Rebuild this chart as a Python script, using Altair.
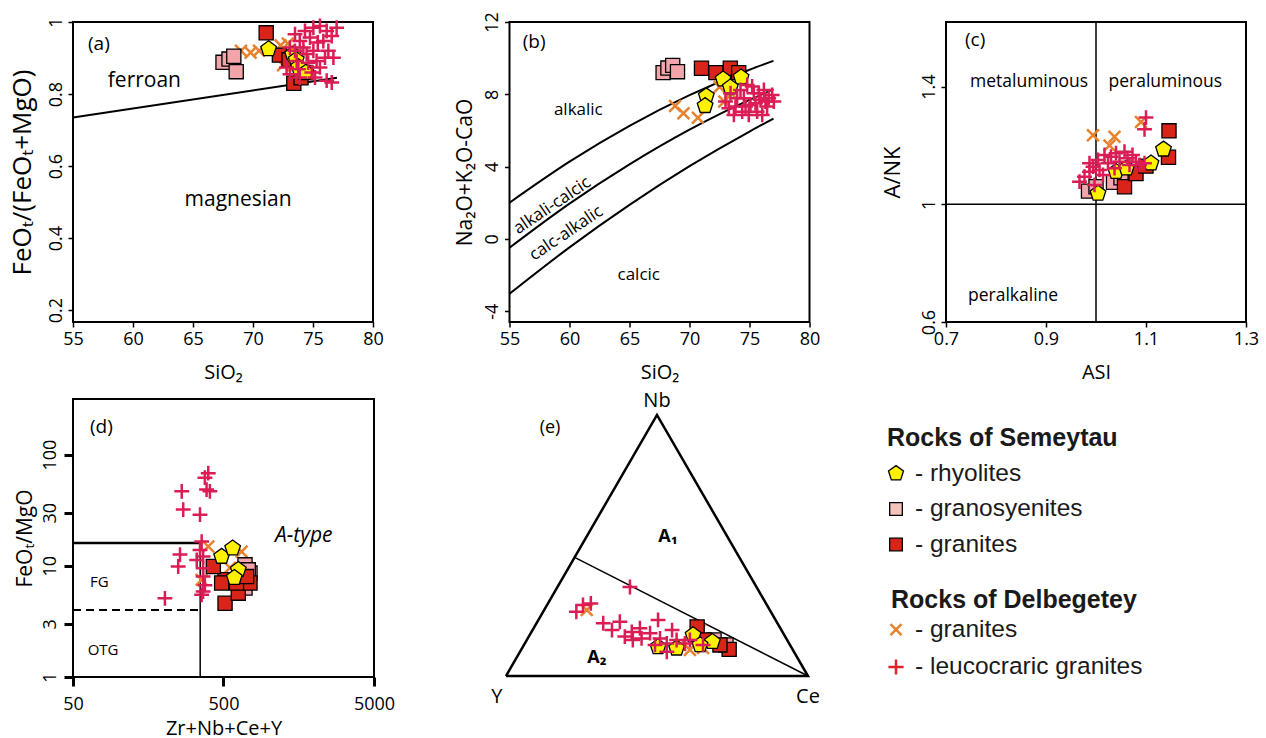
import altair as alt
import pandas as pd

FONT = "Open Sans"
LFONT = "Liberation Sans"

C_RHY = "#FFF200"
C_GSY = "#F2A5AA"
C_GRS = "#D92419"
C_GRD = "#E8812C"
C_LEU = "#DA1E55"
L_GSY = "#F5C3B9"
L_LEU = "#E2202A"

PENT = "M0,-1L0.951,-0.309L0.588,0.809L-0.588,0.809L-0.951,-0.309Z"
XSH = "M-1,-1L1,1M-1,1L1,-1"
PLUS = "M-1,0L1,0M0,-1L0,1"

# ---------------- (a) SiO2 vs FeOt/(FeOt+MgO) ----------------
a_rhy_x = [71.3, 73.3, 73.6, 73.8, 74.4]
a_rhy_y = [0.925, 0.91, 0.895, 0.875, 0.86]
a_gsy_x = [67.5, 68.0, 68.4, 68.6]
a_gsy_y = [0.888, 0.897, 0.905, 0.862]
a_grS_x = [71.1, 72.2, 73.0, 73.4, 74.0, 74.4]
a_grS_y = [0.97, 0.908, 0.895, 0.83, 0.845, 0.86]
a_grD_x = [69.0, 69.8, 70.5, 72.3, 72.9, 72.5, 73.0, 73.8]
a_grD_y = [0.92, 0.915, 0.92, 0.935, 0.94, 0.88, 0.90, 0.92]
a_leu_x = [73.08, 73.5, 73.9, 74.33, 74.75, 75.03, 75.58, 76.14, 76.56, 76.97, 75.86,
           76.28, 76.7, 75.3, 74.47, 73.64, 72.8, 73.08, 73.9, 74.9, 75.58, 76.14,
           76.56, 75.03, 74.2, 75.4, 74.6, 76.0, 73.5, 73.78, 75.17]
a_leu_y = [0.929, 0.966, 0.947, 0.975, 0.957, 0.984, 0.989, 0.975, 0.961, 0.984, 0.947,
           0.92, 0.901, 0.892, 0.911, 0.892, 0.874, 0.855, 0.846, 0.86, 0.874, 0.837,
           0.832, 0.92, 0.929, 0.943, 0.887, 0.901, 0.92, 0.869, 0.846]
a_line_x = [55, 77]
a_line_y = [0.735, 0.845]

# ---------------- (b) SiO2 vs MALI ----------------
b_rhy_x = [72.8, 74.3, 71.4, 71.3, 73.4]
b_rhy_y = [8.83, 8.94, 7.9, 7.36, 8.39]
b_gsy_x = [67.8, 68.2, 68.6, 69.0]
b_gsy_y = [9.2, 9.45, 9.6, 9.25]
b_grS_x = [71.0, 72.2, 73.4, 74.1]
b_grS_y = [9.44, 9.2, 9.44, 9.2]
b_grD_x = [68.8, 69.5, 70.7, 72.5, 72.9, 73.4]
b_grD_y = [7.35, 6.95, 6.7, 8.4, 7.6, 8.1]
b_leu_x = [73.0, 73.42, 73.83, 74.25, 74.53, 74.81, 75.08, 75.36, 75.64, 75.92, 76.2,
           76.47, 76.89, 77.03, 73.7, 74.39, 73.28, 74.94, 75.5, 76.06, 76.6, 75.22,
           73.97, 74.67, 75.78, 76.33]
b_leu_y = [7.6, 8.06, 7.32, 8.24, 7.78, 8.52, 7.41, 8.06, 7.04, 7.69, 8.24,
           7.32, 7.96, 7.6, 6.86, 7.04, 7.23, 6.86, 7.5, 6.86, 7.78, 8.43,
           7.78, 7.32, 8.06, 7.6]
b_curve_x = [55, 60, 65, 70, 75, 77]
b_alk_y = [2.0, 4.27, 6.25, 7.95, 9.36, 9.85]
b_alc_y = [-0.49, 1.95, 4.12, 6.04, 7.69, 8.27]
b_cal_y = [-3.04, -0.47, 1.88, 4.02, 5.94, 6.65]

# ---------------- (c) ASI vs A/NK ----------------
c_rhy_x = [1.004, 1.04, 1.061, 1.11, 1.135]
c_rhy_y = [1.037, 1.111, 1.123, 1.14, 1.187]
c_gsy_x = [0.985, 1.0, 1.035, 1.05]
c_gsy_y = [1.045, 1.06, 1.075, 1.09]
c_grS_x = [1.146, 1.145, 1.057, 1.08, 1.10]
c_grS_y = [1.25, 1.16, 1.06, 1.105, 1.13]
c_grD_x = [0.994, 1.037, 1.027, 1.09]
c_grD_y = [1.235, 1.23, 1.2, 1.28]
c_leu_x = [0.967, 0.977, 0.987, 0.994, 1.004, 1.007, 1.017, 1.024, 1.03, 1.04, 1.047,
           1.057, 1.063, 1.073, 1.08, 1.087, 1.097, 0.997, 1.014, 1.037, 1.067, 1.10,
           1.097, 0.987]
c_leu_y = [1.077, 1.094, 1.111, 1.128, 1.151, 1.117, 1.168, 1.14, 1.162, 1.174, 1.145,
           1.179, 1.157, 1.168, 1.145, 1.134, 1.14, 1.066, 1.1, 1.123, 1.134, 1.295,
           1.255, 1.14]

# ---------------- (d) Zr+Nb+Ce+Y vs FeOt/MgO ----------------
d_rhy_x = [486, 575, 627, 590]
d_rhy_y = [12.1, 14.4, 9.2, 7.8]
d_gsy_x = [695, 750, 695, 730]
d_gsy_y = [10.2, 8.6, 6.3, 9.2]
d_grS_x = [512, 627, 750, 512, 610, 428, 712, 486]
d_grS_y = [4.6, 5.67, 7.0, 7.5, 7.0, 9.85, 8.0, 7.0]
d_grD_x = [396, 660, 552, 358]
d_grD_y = [14.9, 13.4, 9.6, 7.5]
d_leu_x = [264, 386, 270, 349, 396, 376, 406, 358, 257, 250, 204, 349, 332, 366, 366,
           366, 376, 366, 358]
d_leu_y = [46.7, 48.4, 32, 28.8, 68, 62, 46.7, 16.5, 12.6, 9.86, 5.1, 13.9, 11.3, 12.1,
           9.5, 8.0, 6.7, 5.87, 5.48]

# ---------------- (e) Nb - Y - Ce ternary (%) ----------------
e_rhy_nb = [11.1, 10.6, 15.7, 13.1, 11.9]
e_rhy_yy = [44.1, 38.2, 30.2, 25.1, 29.8]
e_rhy_ce = [44.8, 51.2, 54.1, 61.8, 58.3]
e_gsy_nb = [11.9, 13.8]
e_gsy_yy = [21.2, 24.2]
e_gsy_ce = [66.9, 62.0]
e_grS_nb = [18.8, 10.2, 11.9, 13.8]
e_grS_yy = [27.3, 21.0, 23.2, 27.5]
e_grS_ce = [53.9, 68.8, 64.9, 58.7]
e_grD_nb = [17.6, 10.7, 10.0, 25.3, 11.9]
e_grD_yy = [27.0, 29.4, 34.1, 60.6, 36.4]
e_grD_ce = [55.4, 59.9, 55.9, 14.1, 51.7]
e_leu_nb = [34.1, 24.6, 27.8, 20.2, 20.8, 15.1, 13.8, 18.3, 14.4, 16.4, 21.5, 14.4,
            12.5, 9.3, 13.8, 12.5, 13.8, 11.9, 17.6, 11.9, 16.9, 27.2, 17.6]
e_leu_yy = [41.9, 64.4, 58.0, 57.7, 51.9, 53.1, 51.1, 46.5, 47.9, 44.1, 38.9, 41.8,
            40.5, 42.1, 36.6, 34.5, 32.2, 28.8, 56.1, 44.7, 49.9, 60.9, 36.2]
e_leu_ce = [24.0, 11.0, 14.2, 22.1, 27.3, 31.8, 35.1, 35.2, 37.7, 39.5, 39.6, 43.8,
            47.0, 48.6, 49.6, 53.0, 54.0, 59.3, 26.3, 43.4, 33.2, 11.9, 46.2]
e_tri_nb = [0, 0, 100, 0]
e_tri_yy = [100, 0, 0, 100]
e_tri_ce = [0, 100, 0, 0]
e_bnd_nb = [45.45, 0]
e_bnd_yy = [54.55, 0]
e_bnd_ce = [0, 100]

# legend
leg_titles = ["Rocks of Semeytau", "Rocks of Delbegetey"]
leg_items = ["- rhyolites", "- granosyenites", "- granites", "- granites", "- leucocraric granites"]

STYLE = {
    "rhy": dict(shape=PENT, filled=True, fill=C_RHY, stroke="black", strokeWidth=1.3, size=270, opacity=1),
    "gsy": dict(shape="square", filled=True, fill=C_GSY, stroke="black", strokeWidth=1.3, size=200, opacity=1),
    "grS": dict(shape="square", filled=True, fill=C_GRS, stroke="black", strokeWidth=1.3, size=200, opacity=1),
    "grD": dict(shape=XSH, filled=False, stroke=C_GRD, strokeWidth=2.5, size=140, opacity=1),
    "leu": dict(shape=PLUS, filled=False, stroke=C_LEU, strokeWidth=2.5, size=220, opacity=1),
}
ORDER = ["grD", "gsy", "grS", "rhy", "leu"]


def xy(xs, ys):
    return pd.DataFrame({"x": xs, "y": ys})


def axis(values, title, orient, **kw):
    base = dict(values=values, title=title, domain=False, grid=False, ticks=True,
                tickColor="black", tickSize=5, tickWidth=1.5,
                labelColor="black", labelFont=FONT, labelFontSize=18, labelPadding=3,
                labelExpr="'' + datum.value", labelOverlap=False, labelFlush=False,
                titleColor="black", titleFont=FONT, titleFontSize=20, titleFontWeight="normal")
    if orient == "left":
        base.update(labelAngle=270, labelAlign="center", labelBaseline="bottom", titlePadding=8,
                    titleFontSize=21)
    else:
        base.update(titlePadding=14)
    base.update(kw)
    return alt.Axis(**base)


def texts(rows, xe, ye, **mk):
    df = pd.DataFrame(rows, columns=["x", "y", "t"])
    props = dict(font=FONT, fontSize=17, align="left", baseline="middle", color="black")
    props.update(mk)
    return alt.Chart(df).mark_text(**props).encode(x=xe, y=ye, text="t:N")


def scatter(groups, xe, ye):
    return [alt.Chart(groups[g]).mark_point(**STYLE[g]).encode(x=xe, y=ye) for g in ORDER]


# ---------- panel a ----------
xa = alt.X("x:Q", scale=alt.Scale(domain=[55, 80], nice=False, zero=False),
           axis=axis([55, 60, 65, 70, 75, 80], "SiO₂", "bottom"))
ya = alt.Y("y:Q", scale=alt.Scale(domain=[0.167, 1], nice=False, zero=False),
           axis=axis([0.2, 0.4, 0.6, 0.8, 1], "FeOₜ/(FeOₜ+MgO)", "left", titleFontSize=26,
                     titlePadding=12))
ga = {"rhy": xy(a_rhy_x, a_rhy_y), "gsy": xy(a_gsy_x, a_gsy_y), "grS": xy(a_grS_x, a_grS_y),
      "grD": xy(a_grD_x, a_grD_y), "leu": xy(a_leu_x, a_leu_y)}
pa = alt.layer(
    alt.Chart(xy(a_line_x, a_line_y)).mark_line(color="black", strokeWidth=2).encode(x=xa, y=ya),
    *scatter(ga, xa, ya),
    texts([[56.25, 0.939, "(a)"]], xa, ya, fontSize=19),
    texts([[57.9, 0.837, "ferroan"], [64.3, 0.505, "magnesian"]], xa, ya, fontSize=21),
).properties(width=300, height=300)

# ---------- panel b ----------
xb = alt.X("x:Q", scale=alt.Scale(domain=[55, 80], nice=False, zero=False),
           axis=axis([55, 60, 65, 70, 75, 80], "SiO₂", "bottom"))
yb = alt.Y("y:Q", scale=alt.Scale(domain=[-4.6, 12], nice=False, zero=False),
           axis=axis([-4, 0, 4, 8, 12], "Na₂O+K₂O-CaO", "left"))
gb = {"rhy": xy(b_rhy_x, b_rhy_y), "gsy": xy(b_gsy_x, b_gsy_y), "grS": xy(b_grS_x, b_grS_y),
      "grD": xy(b_grD_x, b_grD_y), "leu": xy(b_leu_x, b_leu_y)}
curves = [alt.Chart(xy(b_curve_x, cy)).mark_line(color="black", strokeWidth=2, interpolate="monotone").encode(x=xb, y=yb)
          for cy in (b_alk_y, b_alc_y, b_cal_y)]
pb = alt.layer(
    *curves,
    *scatter(gb, xb, yb),
    texts([[56.1, 10.9, "(b)"]], xb, yb, fontSize=19),
    texts([[58.7, 7.13, "alkalic"], [64.0, -1.99, "calcic"]], xb, yb, fontSize=17),
    texts([[58.56, 1.84, "alkali-calcic"], [59.72, 0.31, "calc-alkalic"]], xb, yb,
          fontSize=17, align="center", angle=326),
).properties(width=300, height=300)

# ---------- panel c ----------
xc = alt.X("x:Q", scale=alt.Scale(domain=[0.7, 1.3], nice=False, zero=False),
           axis=axis([0.7, 0.9, 1.1, 1.3], "ASI", "bottom"))
yc = alt.Y("y:Q", scale=alt.Scale(domain=[0.6, 1.62], nice=False, zero=False),
           axis=axis([0.6, 1, 1.4], "A/NK", "left", titlePadding=16, titleFontSize=22))
gc = {"rhy": xy(c_rhy_x, c_rhy_y), "gsy": xy(c_gsy_x, c_gsy_y), "grS": xy(c_grS_x, c_grS_y),
      "grD": xy(c_grD_x, c_grD_y), "leu": xy(c_leu_x, c_leu_y)}
pc = alt.layer(
    alt.Chart(pd.DataFrame({"x": [1.0]})).mark_rule(color="black", strokeWidth=1.5).encode(x=xc),
    alt.Chart(pd.DataFrame({"y": [1.0]})).mark_rule(color="black", strokeWidth=1.5).encode(y=yc),
    *scatter(gc, xc, yc),
    texts([[0.738, 1.559, "(c)"]], xc, yc, fontSize=19),
    texts([[0.748, 1.416, "metaluminous"], [1.025, 1.416, "peraluminous"],
           [0.744, 0.688, "peralkaline"]], xc, yc, fontSize=17.5),
).properties(width=300, height=300)

# ---------- panel d ----------
xd = alt.X("x:Q", scale=alt.Scale(type="log", domain=[50, 5000], nice=False),
           axis=axis([50, 500, 5000], "Zr+Nb+Ce+Y", "bottom", tickWidth=3, tickSize=9,
                     labelPadding=9, titlePadding=5, titleFontSize=20))
yd = alt.Y("y:Q", scale=alt.Scale(type="log", domain=[1, 316], nice=False),
           axis=axis([1, 3, 10, 30, 100], "FeOₜ/MgO", "left", tickWidth=3, tickSize=9,
                     labelPadding=5, titlePadding=6))
gd = {"rhy": xy(d_rhy_x, d_rhy_y), "gsy": xy(d_gsy_x, d_gsy_y), "grS": xy(d_grS_x, d_grS_y),
      "grD": xy(d_grD_x, d_grD_y), "leu": xy(d_leu_x, d_leu_y)}
p_d = alt.layer(
    alt.Chart(pd.DataFrame({"x": [50], "x2": [350], "y": [16]})).mark_rule(color="black", strokeWidth=2.5)
    .encode(x=xd, x2="x2", y=yd),
    alt.Chart(pd.DataFrame({"x": [50], "x2": [350], "y": [4]})).mark_rule(color="black", strokeWidth=2, strokeDash=[8, 5])
    .encode(x=xd, x2="x2", y=yd),
    alt.Chart(pd.DataFrame({"x": [350], "y": [1], "y2": [16]})).mark_rule(color="black", strokeWidth=1.5)
    .encode(x=xd, y=yd, y2="y2"),
    *scatter(gd, xd, yd),
    texts([[64.8, 178.8, "(d)"]], xd, yd, fontSize=19),
    texts([[1099, 18.4, "A-type"]], xd, yd, fontSize=21, fontStyle="italic"),
    texts([[64.8, 7.22, "FG"], [62.6, 1.75, "OTG"]], xd, yd, fontSize=15),
).properties(width=301, height=278)

# ---------- panel e (ternary) ----------
xe = alt.X("tx:Q", scale=alt.Scale(domain=[-0.384, 1.106], nice=False, zero=False), axis=None)
ye = alt.Y("ty:Q", scale=alt.Scale(domain=[-0.0033, 0.919], nice=False, zero=False), axis=None)
CALC = dict(tx="(datum.ce + datum.nb / 2) / 100", ty="datum.nb * 0.8660254 / 100")


def tern(nb, yy, ce):
    return pd.DataFrame({"nb": nb, "yy": yy, "ce": ce, "i": list(range(len(nb)))})


ge = {"rhy": tern(e_rhy_nb, e_rhy_yy, e_rhy_ce), "gsy": tern(e_gsy_nb, e_gsy_yy, e_gsy_ce),
      "grS": tern(e_grS_nb, e_grS_yy, e_grS_ce), "grD": tern(e_grD_nb, e_grD_yy, e_grD_ce),
      "leu": tern(e_leu_nb, e_leu_yy, e_leu_ce)}
e_layers = [
    alt.Chart(tern(e_tri_nb, e_tri_yy, e_tri_ce)).transform_calculate(**CALC)
    .mark_line(color="black", strokeWidth=2.5, strokeJoin="miter").encode(x=xe, y=ye, order="i:O"),
    alt.Chart(tern(e_bnd_nb, e_bnd_yy, e_bnd_ce)).transform_calculate(**CALC)
    .mark_line(color="black", strokeWidth=1.5).encode(x=xe, y=ye, order="i:O"),
]
for g in ORDER:
    e_layers.append(alt.Chart(ge[g]).transform_calculate(**CALC).mark_point(**STYLE[g]).encode(x=xe, y=ye))


def etext(rows, **mk):
    df = pd.DataFrame(rows, columns=["tx", "ty", "t"])
    props = dict(font=FONT, fontSize=19, align="center", baseline="middle", color="black")
    props.update(mk)
    return alt.Chart(df).mark_text(**props).encode(x=xe, y=ye, text="t:N")


e_layers += [
    etext([[0.146, 0.823, "(e)"]], fontSize=18),
    etext([[0.5, 0.912, "Nb"], [-0.03, -0.07, "Y"], [1.0, -0.07, "Ce"]], fontSize=20),
    etext([[0.536, 0.461, "A₁"], [0.301, 0.060, "A₂"]], fontSize=18, fontWeight="bold"),
]
pe = alt.layer(*e_layers).properties(width=450, height=278,
                                     view=alt.ViewBackground(stroke="transparent"))

# ---------- legend ----------
ly = alt.Y("row:Q", scale=alt.Scale(domain=[-1.099, 6.732], reverse=True, nice=False, zero=False), axis=None)
leg_title_df = pd.DataFrame({"row": [0, 4.55], "t": leg_titles})
leg_item_df = pd.DataFrame({"row": [1, 2, 3, 5.4, 6.45], "t": leg_items})
leg_layers = [
    alt.Chart(leg_title_df.iloc[[0]]).mark_text(font=LFONT, fontSize=25, fontWeight="bold", align="left",
                                                 baseline="middle", color="#1a1a1a")
    .encode(x=alt.value(31), y=ly, text="t:N"),
    alt.Chart(leg_title_df.iloc[[1]]).mark_text(font=LFONT, fontSize=25, fontWeight="bold", align="left",
                                                 baseline="middle", color="#1a1a1a")
    .encode(x=alt.value(35), y=ly, text="t:N"),
    alt.Chart(leg_item_df).mark_text(font=LFONT, fontSize=24.5, align="left", baseline="middle", color="#1a1a1a")
    .encode(x=alt.value(59), y=ly, text="t:N"),
]
leg_marks = [
    (1, dict(STYLE["rhy"], size=250)),
    (2, dict(STYLE["gsy"], fill=L_GSY, size=160)),
    (3, dict(STYLE["grS"], size=160)),
    (5.4, dict(STYLE["grD"], size=120)),
    (6.45, dict(STYLE["leu"], stroke=L_LEU, size=230)),
]
for r, st in leg_marks:
    leg_layers.append(alt.Chart(pd.DataFrame({"row": [r]})).mark_point(**st).encode(x=alt.value(40), y=ly))
pl = alt.layer(*leg_layers).properties(width=400, height=278,
                                       view=alt.ViewBackground(stroke="transparent"))

top = alt.hconcat(pa, pb, pc, spacing=136.5, bounds="flush")
bottom = alt.hconcat(p_d, pe, pl, spacing=16, bounds="flush")
chart = alt.vconcat(top, bottom, spacing=7).properties(
    padding={"left": 8, "top": 10, "right": 5, "bottom": 0}, background="white"
).configure_view(stroke="black", strokeWidth=2)

chart.save("out.html", embed_options={"renderer": "svg", "actions": False})
